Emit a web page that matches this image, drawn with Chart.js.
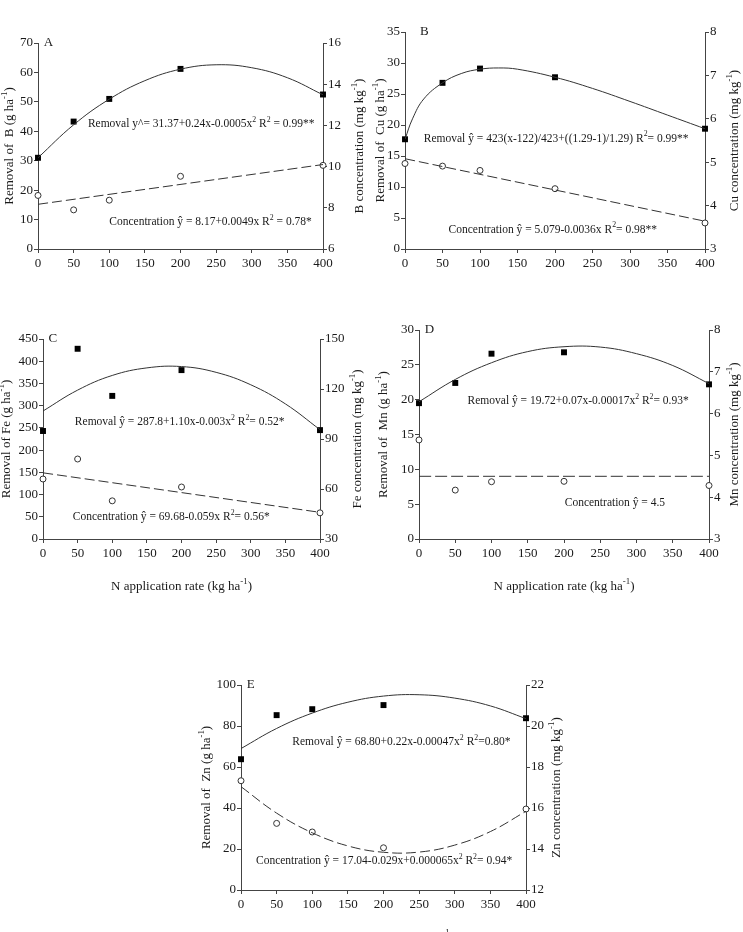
<!DOCTYPE html>
<html>
<head>
<meta charset="utf-8">
<script src="https://cdn.jsdelivr.net/npm/chart.js@4.4.0/dist/chart.umd.min.js"></script>
<style>
  body { margin: 0; background: #fff; width: 743px; height: 932px; position: relative; overflow: hidden; }
  canvas { position: absolute; }
</style>
</head>
<body>
<canvas id="cA" width="372" height="280" style="left:0px;top:20px"></canvas>
<canvas id="cB" width="371" height="280" style="left:372px;top:20px"></canvas>
<canvas id="cC" width="372" height="280" style="left:0px;top:320px"></canvas>
<canvas id="cD" width="371" height="280" style="left:372px;top:320px"></canvas>
<canvas id="cE" width="400" height="292" style="left:180px;top:640px"></canvas>
<script>
// N application rates (kg ha-1)
const rates = [0, 50, 100, 200, 400];
const xTicks = { min: 0, max: 400, step: 50 };

// A - boron
const bRemoval = [31, 43.3, 51, 61.2, 52.5];
const bConc = [8.6, 7.9, 8.37, 9.53, 10.06];
const bRemovalFitX = [0, 50, 100, 150, 200, 250, 300, 350, 400];
const bRemovalFitY = [31, 42.2, 50.9, 57.2, 61.1, 62.6, 61.6, 58.2, 52.4];
const bConcFitX = [0, 400];
const bConcFitY = [8.17, 10.1];

// B - copper
const cuRemoval = [17.7, 26.8, 29.1, 27.7, 19.4];
const cuConc = [4.97, 4.91, 4.81, 4.39, 3.6];
const cuRemovalFitX = [0, 10, 25, 50, 75, 100, 125, 150, 200, 250, 300, 350, 400];
const cuRemovalFitY = [17.7, 21.0, 24.2, 26.8, 28.3, 29.0, 29.2, 29.0, 27.7, 25.9, 23.8, 21.6, 19.4];
const cuConcFitX = [0, 400];
const cuConcFitY = [5.08, 3.64];

// C - iron
const feRemoval = [243, 428, 322, 380, 245];
const feConc = [66, 78, 52.9, 61.2, 45.7];
const feRemovalFitX = [0, 50, 100, 150, 200, 250, 300, 350, 400];
const feRemovalFitY = [288, 335, 368, 385, 388, 375, 347, 304, 246];
const feConcFitX = [0, 400];
const feConcFitY = [69.7, 46];

// D - manganese
const mnRemoval = [19.5, 22.4, 26.6, 26.8, 22.2];
const mnConc = [5.37, 4.17, 4.37, 4.38, 4.28];
const mnRemovalFitX = [0, 50, 100, 150, 200, 250, 300, 350, 400];
const mnRemovalFitY = [19.7, 22.9, 25.3, 26.9, 27.6, 27.55, 26.6, 24.9, 22.3];
const mnConcFitX = [0, 400];
const mnConcFitY = [4.5, 4.5];

// E - zinc
const znRemoval = [63.8, 85.3, 88.2, 90.2, 83.8];
const znConc = [17.33, 15.25, 14.83, 14.06, 15.95];
const znRemovalFitX = [0, 50, 100, 150, 200, 250, 300, 350, 400];
const znRemovalFitY = [69, 78.8, 86.3, 91.6, 94.6, 95.25, 93.6, 89.8, 83.6];
const znConcFitX = [0, 50, 100, 150, 200, 250, 300, 350, 400];
const znConcFitY = [17.04, 15.75, 14.79, 14.15, 13.84, 13.85, 14.19, 14.85, 15.84];

const FONT = "'Liberation Serif', 'Times New Roman', serif";
const AXIS = '#444';
const INK = '#1a1a1a';

// text with ^{...} superscripts
function richWidth(ctx, text, size) {
  let w = 0;
  text.split(/(\^\{[^}]*\})/).forEach(part => {
    if (!part) return;
    const sup = part.startsWith('^{');
    const s = sup ? part.slice(2, -1) : part;
    ctx.font = (sup ? size * 0.68 : size) + 'px ' + FONT;
    w += ctx.measureText(s).width;
  });
  return w;
}
function drawRich(ctx, text, x, y, size, align) {
  let cx = align === 'center' ? x - richWidth(ctx, text, size) / 2 : x;
  ctx.textAlign = 'left';
  ctx.textBaseline = 'middle';
  text.split(/(\^\{[^}]*\})/).forEach(part => {
    if (!part) return;
    const sup = part.startsWith('^{');
    const s = sup ? part.slice(2, -1) : part;
    ctx.font = (sup ? size * 0.68 : size) + 'px ' + FONT;
    ctx.fillText(s, cx, sup ? y - size * 0.4 : y);
    cx += ctx.measureText(s).width;
  });
}

const panelText = {
  id: 'panelText',
  afterDraw(chart, args, o) {
    const ctx = chart.ctx;
    const { x, y } = chart.scales;
    const area = chart.chartArea;
    const midY = (area.top + area.bottom) / 2;
    ctx.save();
    ctx.fillStyle = INK;
    ctx.font = '13px ' + FONT;
    ctx.textAlign = 'left';
    ctx.textBaseline = 'middle';
    ctx.fillText(o.letter, x.getPixelForValue(o.letterAt[0]), y.getPixelForValue(o.letterAt[1]));
    o.eqs.forEach(e => drawRich(ctx, e.text, x.getPixelForValue(e.at[0]), y.getPixelForValue(e.at[1]), 11.5, 'left'));
    // both y titles read bottom to top
    [[o.leftTitle, o.leftTitleX], [o.rightTitle, o.rightTitleX]].forEach(([t, tx]) => {
      ctx.save();
      ctx.translate(tx, midY);
      ctx.rotate(-Math.PI / 2);
      drawRich(ctx, t, 0, 0, 13, 'center');
      ctx.restore();
    });
    if (o.xTitle) {
      drawRich(ctx, o.xTitle, (area.left + area.right) / 2, o.xTitleY, 13, 'center');
    }
    ctx.restore();
  }
};

function pts(xs, ys) {
  return xs.map((v, i) => ({ x: v, y: ys[i] }));
}

function axis(pos, min, max, step, pad, fitFn) {
  return {
    type: 'linear',
    position: pos,
    min: min,
    max: max,
    ticks: { stepSize: step, color: INK, font: { family: FONT, size: 13 }, padding: pad },
    grid: { drawOnChartArea: false, drawTicks: true, tickLength: 4, color: AXIS },
    border: { color: AXIS, width: 1 },
    afterFit: fitFn
  };
}

function makePanel(id, p) {
  new Chart(document.getElementById(id), {
    type: 'scatter',
    data: {
      datasets: [
        {
          data: pts(p.removalFit[0], p.removalFit[1]),
          yAxisID: 'y',
          showLine: true,
          pointRadius: 0,
          borderColor: '#333',
          borderWidth: 1,
          tension: 0.4
        },
        {
          data: pts(p.concFit[0], p.concFit[1]),
          yAxisID: 'y1',
          showLine: true,
          pointRadius: 0,
          borderColor: '#333',
          borderWidth: 1,
          borderDash: p.dash,
          tension: 0.4
        },
        {
          data: pts(rates, p.conc),
          yAxisID: 'y1',
          pointStyle: 'circle',
          pointRadius: 3,
          backgroundColor: '#fff',
          borderColor: '#333',
          borderWidth: 1,
          clip: false
        },
        {
          data: pts(rates, p.removal),
          yAxisID: 'y',
          pointStyle: 'rect',
          pointRadius: 4.2,
          backgroundColor: '#000',
          borderColor: '#000',
          borderWidth: 0,
          clip: false
        }
      ]
    },
    options: {
      responsive: false,
      animation: false,
      layout: { padding: { top: p.padTop, left: 0, right: 0, bottom: 0 } },
      scales: {
        x: axis('bottom', xTicks.min, xTicks.max, xTicks.step, 3, s => { s.height = p.xAxisH; }),
        y: axis('left', p.left[0], p.left[1], p.left[2], 1, s => { s.width = p.leftW; }),
        y1: axis('right', p.right[0], p.right[1], p.right[2], 1, s => { s.width = p.rightW; })
      },
      plugins: {
        legend: { display: false },
        tooltip: { enabled: false },
        panelText: p.text
      }
    },
    plugins: [panelText]
  });
}

makePanel('cA', {
  removal: bRemoval, conc: bConc,
  removalFit: [bRemovalFitX, bRemovalFitY], concFit: [bConcFitX, bConcFitY],
  left: [0, 70, 10], right: [6, 16, 2], dash: [10, 4],
  padTop: 23, leftW: 38, rightW: 49, xAxisH: 51,
  text: {
    letter: 'A', letterAt: [8, 70],
    eqs: [
      { text: 'Removal y^= 31.37+0.24x-0.0005x^{2} R^{2} = 0.99**', at: [70, 42.4] },
      { text: 'Concentration ŷ = 8.17+0.0049x R^{2} = 0.78*', at: [100, 9.1] }
    ],
    leftTitle: 'Removal of  B (g ha^{-1})', leftTitleX: 10,
    rightTitle: 'B concentration (mg kg^{-1})', rightTitleX: 360
  }
});

makePanel('cB', {
  removal: cuRemoval, conc: cuConc,
  removalFit: [cuRemovalFitX, cuRemovalFitY], concFit: [cuConcFitX, cuConcFitY],
  left: [0, 35, 5], right: [3, 8, 1], dash: [10, 4],
  padTop: 12, leftW: 33, rightW: 38, xAxisH: 51,
  text: {
    letter: 'B', letterAt: [20, 35],
    eqs: [
      { text: 'Removal ŷ = 423(x-122)/423+((1.29-1)/1.29) R^{2}= 0.99**', at: [25, 17.8] },
      { text: 'Concentration ŷ = 5.079-0.0036x R^{2}= 0.98**', at: [58, 3.1] }
    ],
    leftTitle: 'Removal of  Cu (g ha^{-1})', leftTitleX: 9,
    rightTitle: 'Cu concentration (mg kg^{-1})', rightTitleX: 363
  }
});

makePanel('cC', {
  removal: feRemoval, conc: feConc,
  removalFit: [feRemovalFitX, feRemovalFitY], concFit: [feConcFitX, feConcFitY],
  left: [0, 450, 50], right: [30, 150, 30], dash: [10, 4],
  padTop: 19, leftW: 43, rightW: 52, xAxisH: 61,
  text: {
    letter: 'C', letterAt: [8, 450],
    eqs: [
      { text: 'Removal ŷ = 287.8+1.10x-0.003x^{2} R^{2}= 0.52*', at: [46, 263] },
      { text: 'Concentration ŷ = 69.68-0.059x R^{2}= 0.56*', at: [43, 49] }
    ],
    leftTitle: 'Removal of Fe (g ha^{-1})', leftTitleX: 7,
    rightTitle: 'Fe concentration (mg kg^{-1})', rightTitleX: 358,
    xTitle: 'N application rate (kg ha^{-1})', xTitleY: 267
  }
});

makePanel('cD', {
  removal: mnRemoval, conc: mnConc,
  removalFit: [mnRemovalFitX, mnRemovalFitY], concFit: [mnConcFitX, mnConcFitY],
  left: [0, 30, 5], right: [3, 8, 1], dash: [12, 4],
  padTop: 10, leftW: 47, rightW: 34, xAxisH: 61,
  text: {
    letter: 'D', letterAt: [8, 30],
    eqs: [
      { text: 'Removal ŷ = 19.72+0.07x-0.00017x^{2} R^{2}= 0.93*', at: [67, 19.8] },
      { text: 'Concentration ŷ = 4.5', at: [201, 5.1] }
    ],
    leftTitle: 'Removal of  Mn (g ha^{-1})', leftTitleX: 12,
    rightTitle: 'Mn concentration (mg kg^{-1})', rightTitleX: 363,
    xTitle: 'N application rate (kg ha^{-1})', xTitleY: 267
  }
});

makePanel('cE', {
  removal: znRemoval, conc: znConc,
  removalFit: [znRemovalFitX, znRemovalFitY], concFit: [znConcFitX, znConcFitY],
  left: [0, 100, 20], right: [12, 22, 2], dash: [10, 4],
  padTop: 45, leftW: 61, rightW: 54, xAxisH: 42,
  text: {
    letter: 'E', letterAt: [8, 100],
    eqs: [
      { text: 'Removal ŷ = 68.80+0.22x-0.00047x^{2} R^{2}=0.80*', at: [72, 72] },
      { text: 'Concentration ŷ = 17.04-0.029x+0.000065x^{2} R^{2}= 0.94*', at: [21, 14] }
    ],
    leftTitle: 'Removal of  Zn (g ha^{-1})', leftTitleX: 27,
    rightTitle: 'Zn concentration (mg kg^{-1})', rightTitleX: 377,
    xTitle: 'N application rate (kg ha^{-1})', xTitleY: 298
  }
});
</script>
</body>
</html>
